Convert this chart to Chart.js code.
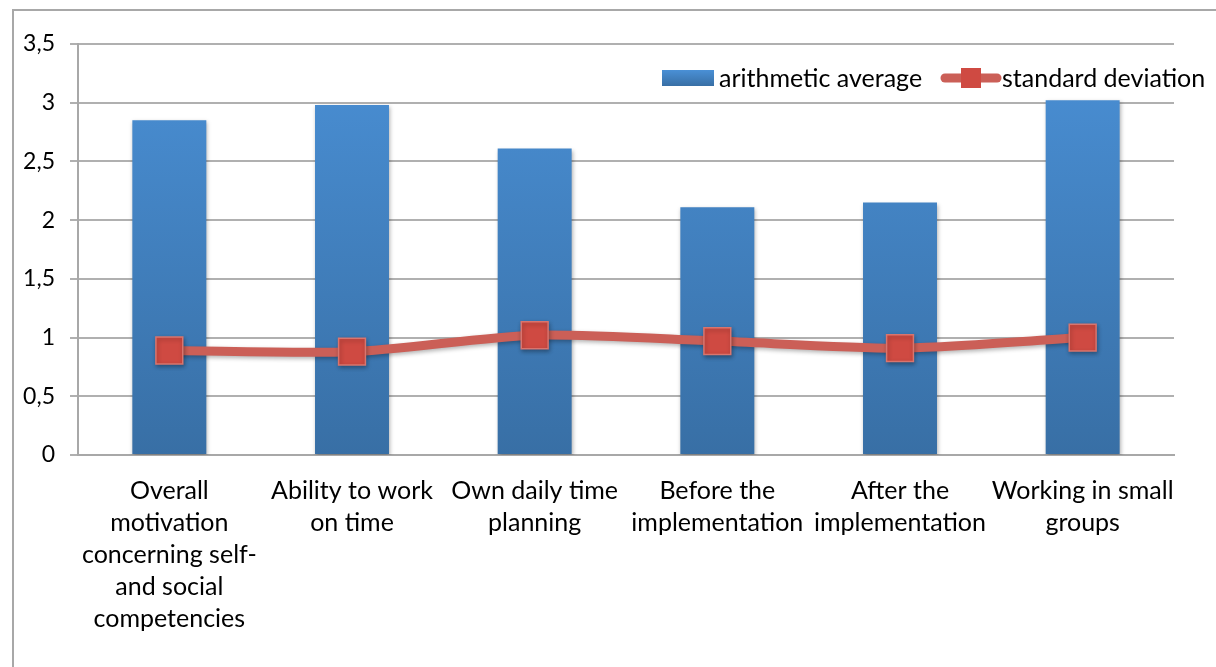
<!DOCTYPE html>
<html>
<head>
<meta charset="utf-8">
<script src="https://cdn.jsdelivr.net/npm/chart.js@4.4.1/dist/chart.umd.min.js"></script>
<style>
html, body { margin: 0; padding: 0; background: #fff; overflow: hidden; }
#frame { position: absolute; left: 12px; top: 9px; width: 1300px; height: 800px; border: 2px solid #a8a8a8; }
#wrap { position: absolute; left: 0; top: 0; width: 1216px; height: 667px; }
</style>
</head>
<body>
<div id="frame"></div>
<div id="wrap"><canvas id="chart"></canvas></div>
<script>
// chart data
const categories = [
    ['Overall', 'motivation', 'concerning self-', 'and social', 'competencies'],
    ['Ability to work', 'on time'],
    ['Own daily time', 'planning'],
    ['Before the', 'implementation'],
    ['After the', 'implementation'],
    ['Working in small', 'groups']
]
const averageValues = [2.85, 2.98, 2.61, 2.11, 2.15, 3.02]
const deviationValues = [0.89, 0.88, 1.02, 0.97, 0.91, 1.00]
const seriesNames = ['arithmetic average', 'standard deviation']

const FONT = 'Lato'

// blue gradient for the bars, top to bottom
function barGradient(ctx, top, bottom) {
    let g = ctx.createLinearGradient(0, top, 0, bottom)
    g.addColorStop(0, '#4a90d6')
    g.addColorStop(1, '#386fa5')
    return g
}

// shadow under the bars
const shadowPlugin = {
    id: 'barShadow',
    beforeDatasetDraw(chart, args) {
        let ctx = chart.ctx
        ctx.save()
        ctx.shadowColor = 'rgba(0,0,0,0.3)'
        ctx.shadowBlur = 4
        ctx.shadowOffsetX = 1
        ctx.shadowOffsetY = 2
    },
    afterDatasetDraw(chart) {
        chart.ctx.restore()
    }
}

// legend drawn inside the plot, top right
const legendPlugin = {
    id: 'innerLegend',
    afterDraw(chart) {
        let ctx = chart.ctx
        let area = chart.chartArea
        let y = area.top + 34
        let x = area.right - 512
        ctx.save()
        ctx.font = '25px ' + FONT
        ctx.textBaseline = 'middle'
        ctx.fillStyle = '#000'

        // bar entry
        ctx.fillStyle = barGradient(ctx, y - 8, y + 8)
        ctx.fillRect(x, y - 8, 52, 16)
        ctx.fillStyle = '#000'
        ctx.fillText(seriesNames[0], x + 57, y + 1)

        // line entry
        let lx = x + 279
        ctx.strokeStyle = '#cb5f57'
        ctx.lineWidth = 9
        ctx.lineCap = 'round'
        ctx.beginPath()
        ctx.moveTo(lx + 4, y)
        ctx.lineTo(lx + 56, y)
        ctx.stroke()
        ctx.fillStyle = '#cf4a42'
        ctx.fillRect(lx + 20, y - 10, 20, 20)
        ctx.fillStyle = '#000'
        ctx.fillText(seriesNames[1], lx + 61, y + 1)
        ctx.restore()
    }
}

const ctx = document.getElementById('chart')
const chart = new Chart(ctx, {
    data: {
        labels: categories,
        datasets: [{
            type: 'line',
            label: seriesNames[1],
            data: deviationValues,
            borderColor: '#cb5f57',
            borderWidth: 9,
            tension: 0.25,
            pointStyle: 'rect',
            pointRadius: 19,
            pointHoverRadius: 19,
            pointBackgroundColor: '#cf4a42',
            pointBorderColor: '#d9756e',
            pointBorderWidth: 1.5,
            order: 0
        }, {
            type: 'bar',
            label: seriesNames[0],
            data: averageValues,
            backgroundColor: function(c) {
                let a = c.chart.chartArea
                if (!a) return '#4180c0'
                return barGradient(c.chart.ctx, a.top, a.bottom)
            },
            categoryPercentage: 1,
            barPercentage: 0.405,
            order: 1
        }]
    },
    options: {
        responsive: true,
        maintainAspectRatio: false,
        animation: false,
        layout: {
            padding: { left: 0, top: 44, right: 42, bottom: 0 }
        },
        plugins: {
            legend: { display: false },
            tooltip: { enabled: false }
        },
        scales: {
            x: {
                grid: { display: false },
                border: { display: true, color: '#a8a8a8', width: 2 },
                ticks: {
                    color: '#000',
                    padding: 12,
                    maxRotation: 0,
                    autoSkip: false,
                    font: { family: FONT, size: 25, lineHeight: 1.28 }
                },
                afterFit(scale) { scale.height = 212 }
            },
            y: {
                min: 0,
                max: 3.5,
                grid: { color: '#b0b0b0', lineWidth: 2, tickLength: 8 },
                border: { display: true, color: '#a8a8a8', width: 2 },
                ticks: {
                    stepSize: 0.5,
                    color: '#000',
                    padding: 15,
                    font: { family: FONT, size: 23 },
                    callback: v => String(v).replace('.', ',')
                },
                afterFit(scale) { scale.width = 78 }
            }
        }
    },
    plugins: [shadowPlugin, legendPlugin]
})
</script>
</body>
</html>
